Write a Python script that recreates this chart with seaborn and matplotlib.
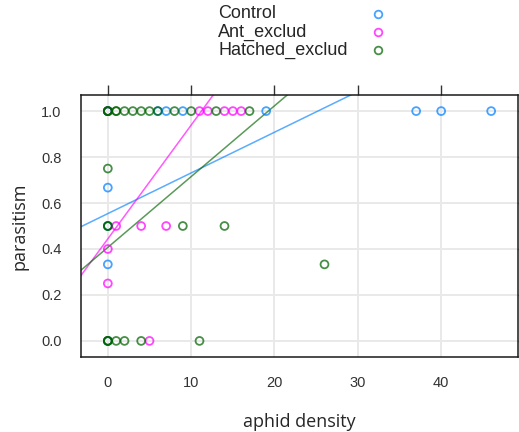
import numpy as np
import pandas as pd
import matplotlib
matplotlib.use("Agg")
import matplotlib.pyplot as plt
import seaborn as sns
from matplotlib.lines import Line2D

# Observations per treatment: aphid density and proportion parasitised
groups = ["Control", "Ant_exclud", "Hatched_exclud"]

control_x = [0, 0, 0, 0, 0, 0, 6, 7, 9, 19, 37, 40, 46]
control_y = [1.0, 1.0, 0.667, 0.333, 0.5, 0.0, 1.0, 1.0, 1.0, 1.0, 1.0, 1.0, 1.0]

ant_x = [0, 0, 0, 1, 4, 7, 5, 11, 12, 14, 15, 16]
ant_y = [1.0, 0.4, 0.25, 0.5, 0.5, 0.5, 0.0, 1.0, 1.0, 1.0, 1.0, 1.0]

hatched_x = [0, 0, 0, 9, 14, 26, 0, 0, 0, 1, 2, 4, 11,
             0, 0, 0, 1, 1, 2, 3, 4, 5, 6, 8, 10, 13, 17]
hatched_y = [0.75, 0.5, 0.5, 0.5, 0.5, 0.333, 0.0, 0.0, 0.0, 0.0, 0.0, 0.0, 0.0,
             1.0, 1.0, 1.0, 1.0, 1.0, 1.0, 1.0, 1.0, 1.0, 1.0, 1.0, 1.0, 1.0, 1.0]

# Fitted linear regression per treatment (intercept, slope)
fit_intercept = [0.554, 0.444, 0.407]
fit_slope = [0.0177, 0.0495, 0.0308]

x_ticks = [0, 10, 20, 30, 40]
y_ticks = [0.0, 0.2, 0.4, 0.6, 0.8, 1.0]

colors = ["#0080ff", "#ff00ff", "#006400"]
alpha = 0.72

df = pd.concat([
    pd.DataFrame({"density": control_x, "parasitism": control_y, "group": groups[0]}),
    pd.DataFrame({"density": ant_x, "parasitism": ant_y, "group": groups[1]}),
    pd.DataFrame({"density": hatched_x, "parasitism": hatched_y, "group": groups[2]}),
], ignore_index=True)

sns.set_style("white")
plt.rcParams["font.family"] = ["Liberation Sans", "DejaVu Sans"]

fig = plt.figure(figsize=(5.19, 4.32), dpi=100)
ax = fig.add_axes([81 / 519, 75 / 432, 437 / 519, 262 / 432])

xmin, xmax = -0.07 * 46, 46 * 1.07
ymin, ymax = -0.07, 1.07
ax.set_xlim(xmin, xmax)
ax.set_ylim(ymin, ymax)

# reference grid
for xv in x_ticks:
    ax.axvline(xv, color="#e9e9e9", lw=1.4, zorder=0)
for yv in y_ticks:
    ax.axhline(yv, color="#e9e9e9", lw=1.4, zorder=0)

# regression lines across the whole panel
xs = np.array([xmin, xmax])
for g, a, b, c in zip(groups, fit_intercept, fit_slope, colors):
    ax.plot(xs, a + b * xs, color=c, alpha=0.65, lw=1.1, zorder=2)

sns.scatterplot(data=df, x="density", y="parasitism", hue="group",
                hue_order=groups, palette=colors, s=32, marker="o",
                linewidth=1.3, alpha=alpha, legend=False, ax=ax, zorder=3)
coll = ax.collections[-1]
fc = coll.get_facecolors()
coll.set_edgecolors(fc)
coll.set_facecolors("none")

ax.set_xticks(x_ticks)
ax.set_yticks(y_ticks)
ax.set_yticklabels([f"{v:.1f}" for v in y_ticks])
ax.tick_params(axis="both", which="both", direction="out", length=7, width=1,
               color="#333333", labelsize=10.5, labelcolor="#333333",
               top=True, right=True, labeltop=False, labelright=False, pad=7)
for sp in ax.spines.values():
    sp.set_visible(True)
    sp.set_color("#1a1a1a")
    sp.set_linewidth(1.1)

label_font = ["Open Sans", "DejaVu Sans"]
ax.set_xlabel("aphid density", fontsize=13, family=label_font, labelpad=16)
ax.set_ylabel("parasitism", fontsize=13, family=label_font, labelpad=9)

# key above the panel: labels left aligned, symbols in one column
key_y = [14, 32, 50]
for g, c, yy in zip(groups, colors, key_y):
    fig.text(218 / 519, 1 - yy / 432, g, fontsize=13, va="center", ha="left")
    fig.add_artist(Line2D([378 / 519], [1 - yy / 432], marker="o", ms=5.5,
                          mfc="none", mec=c, mew=1.3, alpha=alpha,
                          transform=fig.transFigure))

fig.savefig("out.png", dpi=100, facecolor="white")
